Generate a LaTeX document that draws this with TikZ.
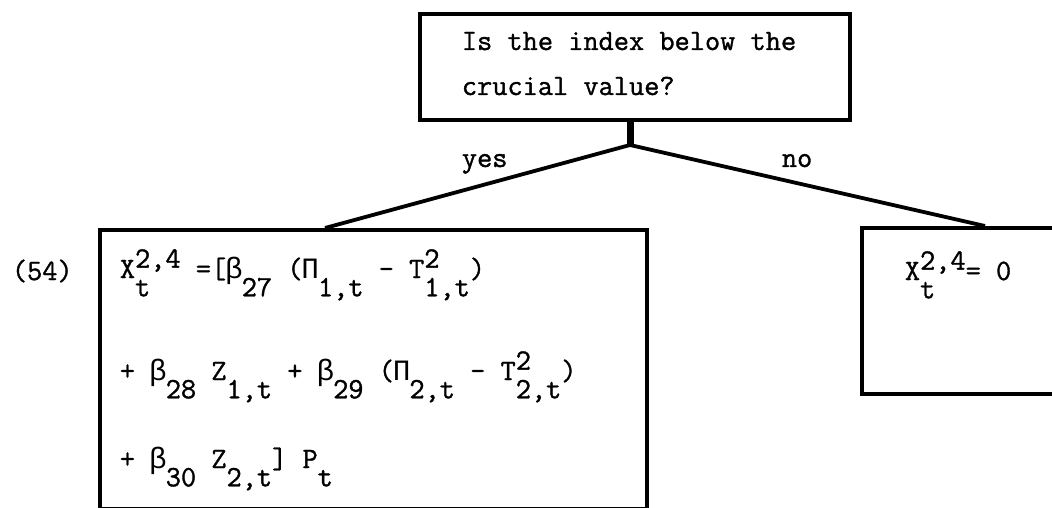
\documentclass[tikz,border=0pt]{standalone}
\usepackage{fontspec}
\newfontfamily\typew[FakeBold=1.2]{Latin Modern Mono}
\newfontfamily\greek{Liberation Mono}

% raised and lowered text, typewriter fashion
\newcommand{\up}[1]{\raisebox{.35em}{#1}}
\newcommand{\dn}[1]{\raisebox{-.62em}{#1}}
\newcommand{\ud}[2]{\sbox0{#1}\sbox2{#2}%
  \ifdim\wd0>\wd2 \rlap{\up{#1}}\dn{\makebox[\wd0][l]{#2}}%
  \else\rlap{\up{#1}}\dn{#2}\fi}
\newcommand{\gbeta}{\makebox[.525em][c]{\greek β}}
\newcommand{\gPi}{\makebox[.525em][c]{\greek Π}}

\begin{document}
\begin{tikzpicture}[x=1pt,y=-1pt,line width=3.8pt,
  box/.style={draw,rectangle,inner sep=0pt,anchor=north west},
  txt/.style={anchor=base west,inner sep=0pt,
    font=\typew\fontsize{29.5}{36}\selectfont}]

\useasboundingbox (0,0) rectangle (1052,508);
\clip (0,0) rectangle (1052,508);

% the three boxes
\node[box,minimum width=430pt,minimum height=106pt] (question) at (418,12) {};
\node[box,minimum width=547pt,minimum height=279pt] (yesbox) at (98,228) {};
\node[box,minimum width=215pt,minimum height=166pt] (nobox) at (860,226) {};

% the fork
\coordinate (fork) at (630,145);
\coordinate (yestop) at ([xshift=227pt]yesbox.north west);
\coordinate (notop) at ([xshift=125pt]nobox.north west);
\draw[line width=7pt] (fork |- question.south) -- (fork);
\draw (fork) -- (yestop);
\draw (fork) -- (notop);

% texts
\node[txt] (q1) at (460,50) {Is the index below the};
\node[txt] (q2) at (460,95) {crucial value?};
\node[txt] (yes) at (460,167) {yes};
\node[txt] (no) at (780,167) {no};
\node[txt] (eqno) at (10,280) {(54)};

\node[txt] (y1) at (118,278) {X\ud{2,4}{t}~=[\gbeta\dn{27}~(\gPi\dn{1,t}~-~T\ud{2}{1,t})};
\node[txt] (y2) at (118,380) {+~\gbeta\dn{28}~Z\dn{1,t}~+~\gbeta\dn{29}~(\gPi\dn{2,t}~-~T\ud{2}{2,t})};
\node[txt] (y3) at (118,468) {+~\gbeta\dn{30}~Z\dn{2,t}]~P\dn{t}};

\node[txt] (n1) at (903,280) {X\ud{2,4}{t}=~0};

\end{tikzpicture}
\end{document}
